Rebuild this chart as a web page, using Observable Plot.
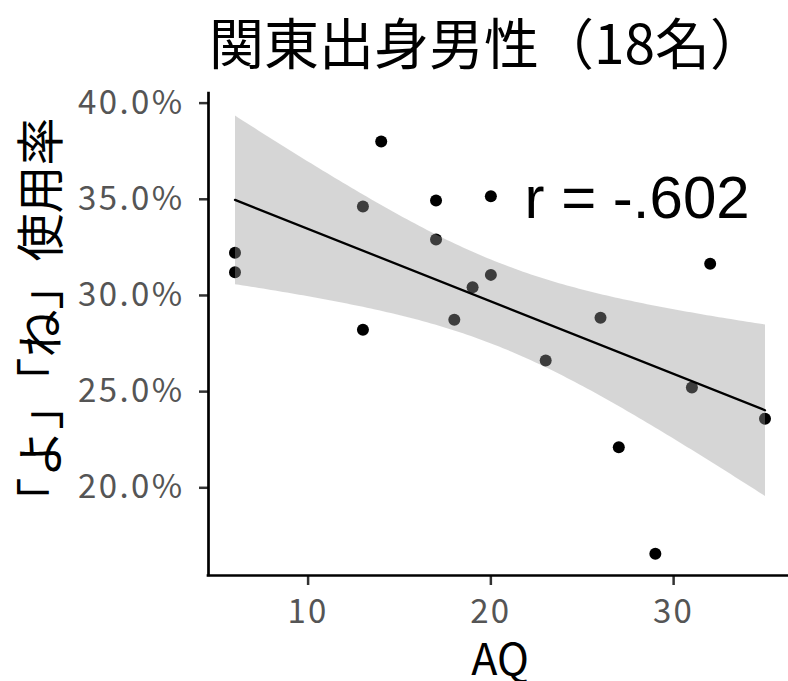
<!DOCTYPE html>
<html><head><meta charset="utf-8">
<script src="https://cdn.jsdelivr.net/npm/d3@7"></script>
<script src="https://cdn.jsdelivr.net/npm/@observablehq/plot@0.6"></script>
<style>
body{margin:0;background:#fff;}
#title{height:88px;box-sizing:border-box;padding-top:13px;padding-left:209px;font-family:"Noto Sans CJK JP",sans-serif;font-size:55px;line-height:55px;color:#000;white-space:nowrap;}
.chart [aria-label="y-axis tick label"] text,
.chart [aria-label="x-axis tick label"] text{letter-spacing:2.4px;}
</style></head><body>
<div id="title"></div>
<div id="chart"></div>
<script>
const titleText = "関東出身男性（18名）";
const xLabel = "AQ";
const yLabel = "「よ」「ね」使用率";
const aq = [6, 6, 13, 13, 14, 17, 17, 18, 19, 20, 20, 23, 26, 27, 29, 31, 32, 35];
const rate = [0.3222, 0.3121, 0.3463, 0.2822, 0.3801, 0.3494, 0.3291, 0.2874, 0.3043, 0.3516, 0.3107, 0.2662, 0.2884, 0.2211, 0.1657, 0.2522, 0.3165, 0.2359];
const xTicks = [10, 20, 30];
const yTicks = [0.20, 0.25, 0.30, 0.35, 0.40];
const xDomain = [4.55, 36.45];
const yDomain = [0.1544, 0.405];
const annotation = [{label: "r = -.602", x: 28, y: 0.35}];

document.getElementById("title").textContent = titleText;
const data = aq.map((d, i) => ({aq: d, rate: rate[i]}));

const plot = Plot.plot({
  width: 788, height: 593,
  marginTop: 5, marginBottom: 106, marginLeft: 208, marginRight: -3,
  className: "chart",
  style: {fontFamily: '"Noto Sans CJK JP", sans-serif', fontSize: "33px", background: "#fff", overflow: "visible"},
  x: {domain: xDomain},
  y: {domain: yDomain},
  marks: [
    Plot.axisY(yTicks, {tickSize: 9, tickPadding: 15, tickFormat: d3.format(".1%"), stroke: "#333333", strokeWidth: 2.5, fill: "#555555", label: null}),
    Plot.axisX(xTicks, {tickSize: 10, tickPadding: 14, stroke: "#333333", strokeWidth: 2.5, fill: "#555555", label: null}),
    Plot.dot(data, {x: "aq", y: "rate", r: 6, fill: "black"}),
    Plot.linearRegressionY(data, {x: "aq", y: "rate", stroke: "black", strokeWidth: 2.3, fill: "#999999", fillOpacity: 0.4, ci: 0.95}),
    Plot.ruleX([xDomain[0]], {stroke: "black", strokeWidth: 2.7, strokeLinecap: "square"}),
    Plot.ruleY([yDomain[0]], {stroke: "black", strokeWidth: 2.7, strokeLinecap: "square"}),
    Plot.text(annotation, {x: "x", y: "y", text: "label", fontSize: 60, fontFamily: '"Liberation Sans", Arial, sans-serif', fill: "black", lineAnchor: "middle"}),
    Plot.text([xLabel], {text: d => d, frameAnchor: "bottom", dy: 86, fontSize: 43, lineAnchor: "middle", textAnchor: "middle", fill: "black"}),
    Plot.text([yLabel], {text: d => d, frameAnchor: "left", dx: -166, dy: -13, rotate: -90, fontSize: 48, lineAnchor: "middle", textAnchor: "middle", fill: "black"})
  ]
});
document.getElementById("chart").appendChild(plot);
</script>
</body></html>
